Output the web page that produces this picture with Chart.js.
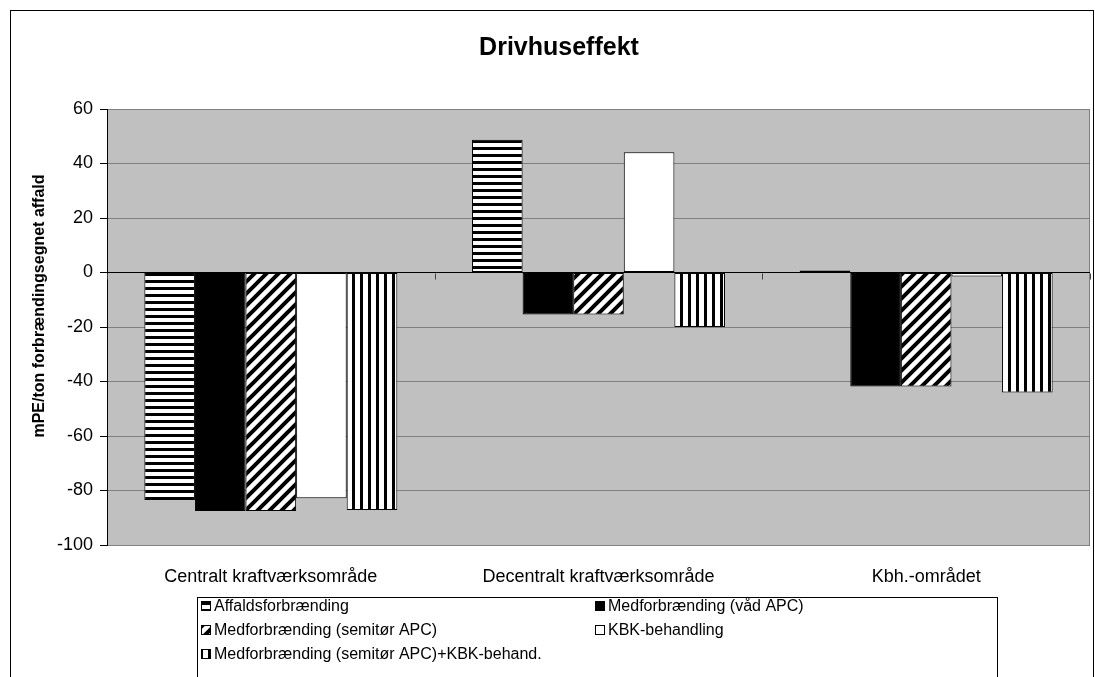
<!DOCTYPE html>
<html lang="da">
<head>
    <meta charset="UTF-8">
    <title>Drivhuseffekt</title>
    <script src="https://cdn.jsdelivr.net/npm/chart.js@4.4.1/dist/chart.umd.min.js"></script>
    <style>
        html, body { margin: 0; padding: 0; background: #fff; }
        #wrap { width: 1095px; height: 677px; }
    </style>
</head>
<body>
    <div id="wrap"><canvas id="chart"></canvas></div>

    <script>
        const categories = ['Centralt kraftværksområde', 'Decentralt kraftværksområde', 'Kbh.-området'];
        const seriesNames = [
            'Affaldsforbrænding',
            'Medforbrænding (våd APC)',
            'Medforbrænding (semitør APC)',
            'KBK-behandling',
            'Medforbrænding (semitør APC)+KBK-behand.'
        ];
        const affald = [-83.5, 48.7, 0.7];
        const vaadApc = [-87.5, -15.4, -41.8];
        const semitorApc = [-87.5, -15.4, -41.8];
        const kbk = [-82.8, 44.1, -1.5];
        const semitorKbk = [-87.2, -20.0, -44.0];
        const yMin = -100, yMax = 60, yStep = 20;

        const FONT = "'Liberation Sans', Arial, sans-serif";

        // hatch fills like the old Excel patterns
        function makePattern(kind) {
            const c = document.createElement('canvas');
            const g = c.getContext('2d');
            if (kind === 'horiz') {
                c.width = 8; c.height = 7;
                g.fillStyle = '#fff'; g.fillRect(0, 0, 8, 7);
                g.fillStyle = '#000'; g.fillRect(0, 0, 8, 3);
            } else if (kind === 'vert') {
                c.width = 8; c.height = 8;
                g.fillStyle = '#fff'; g.fillRect(0, 0, 8, 8);
                g.fillStyle = '#000'; g.fillRect(0, 0, 3, 8);
            } else if (kind === 'diag') {
                c.width = 12; c.height = 12;
                g.fillStyle = '#fff'; g.fillRect(0, 0, 12, 12);
                g.strokeStyle = '#000'; g.lineWidth = 4;
                g.beginPath();
                g.moveTo(-6, 6); g.lineTo(6, -6);
                g.moveTo(0, 12); g.lineTo(12, 0);
                g.moveTo(6, 18); g.lineTo(18, 6);
                g.stroke();
            }
            return g.createPattern(c, 'repeat');
        }

        const fills = [makePattern('horiz'), '#000000', makePattern('diag'), '#ffffff', makePattern('vert')];
        const values = [affald, vaadApc, semitorApc, kbk, semitorKbk];

        const framePlugin = {
            id: 'frame',
            beforeDraw(chart) {
                const { ctx, chartArea: a } = chart;
                ctx.save();
                ctx.fillStyle = '#c0c0c0';
                ctx.fillRect(a.left, a.top, a.right - a.left, a.bottom - a.top);
                ctx.strokeStyle = '#808080';
                ctx.lineWidth = 1;
                ctx.strokeRect(a.left + 0.5, a.top + 0.5, a.right - a.left - 1, a.bottom - a.top);
                ctx.restore();
            },
            afterDraw(chart) {
                const { ctx, chartArea: a } = chart;
                const y = chart.scales.y;
                ctx.save();
                // outer border
                ctx.strokeStyle = '#000';
                ctx.lineWidth = 1;
                ctx.strokeRect(10.5, 10.5, 1083, 720);

                // category ticks on the zero line
                const y0 = Math.round(y.getPixelForValue(0)) + 0.5;
                ctx.strokeStyle = '#404040';
                ctx.beginPath();
                for (let i = 0; i <= categories.length; i++) {
                    const px = Math.round(a.left + (a.right - a.left) * i / categories.length) + 0.5;
                    ctx.moveTo(px, y0);
                    ctx.lineTo(px, y0 + 6);
                }
                ctx.stroke();

                // title
                ctx.fillStyle = '#000';
                ctx.font = 'bold 25px ' + FONT;
                ctx.textAlign = 'center';
                ctx.textBaseline = 'middle';
                ctx.fillText('Drivhuseffekt', 559, 48);

                // y axis title
                ctx.save();
                ctx.translate(40, 306);
                ctx.rotate(-Math.PI / 2);
                ctx.font = 'bold 16px ' + FONT;
                ctx.fillText('mPE/ton forbrændingsegnet affald', 0, 0);
                ctx.restore();

                // legend box
                ctx.strokeStyle = '#000';
                ctx.strokeRect(197.5, 597.5, 800, 120);
                ctx.font = '16px ' + FONT;
                ctx.textAlign = 'left';
                const colX = [201, 595];
                const rowY = [606, 630, 654];
                seriesNames.forEach((name, i) => {
                    const lx = colX[i % 2], ly = rowY[Math.floor(i / 2)];
                    ctx.fillStyle = fills[i];
                    ctx.fillRect(lx, ly - 5, 10, 10);
                    ctx.strokeStyle = '#000';
                    ctx.strokeRect(lx + 0.5, ly - 4.5, 9, 9);
                    ctx.fillStyle = '#000';
                    ctx.fillText(name, lx + 13, ly + 1);
                });
                ctx.restore();
            }
        };

        new Chart(document.getElementById('chart'), {
            type: 'bar',
            data: {
                labels: categories,
                datasets: seriesNames.map((name, i) => ({
                    label: name,
                    data: values[i],
                    backgroundColor: fills[i],
                    borderColor: '#000',
                    borderWidth: 1,
                    borderSkipped: false,
                    categoryPercentage: 0.772,
                    barPercentage: 1.0
                }))
            },
            options: {
                responsive: true,
                maintainAspectRatio: false,
                animation: false,
                devicePixelRatio: 1,
                layout: { padding: { left: 10, right: 5, top: 109, bottom: 0 } },
                plugins: {
                    legend: { display: false },
                    title: { display: false },
                    tooltip: { enabled: false }
                },
                scales: {
                    x: {
                        grid: { display: false },
                        border: { display: false },
                        ticks: {
                            color: '#000',
                            padding: 13,
                            maxRotation: 0,
                            font: { family: FONT, size: 18 }
                        },
                        afterFit(scale) { scale.height = 132; }
                    },
                    y: {
                        min: yMin,
                        max: yMax,
                        border: { display: true, color: '#000', width: 1 },
                        grid: {
                            color: ctx => ctx.tick && ctx.tick.value === 0 ? '#000' : '#808080',
                            tickColor: '#000',
                            tickLength: 7,
                            lineWidth: 1
                        },
                        ticks: {
                            stepSize: yStep,
                            color: '#000',
                            padding: 7,
                            font: { family: FONT, size: 18 }
                        },
                        afterFit(scale) { scale.width = 97; }
                    }
                }
            },
            plugins: [framePlugin]
        });
    </script>
</body>
</html>
